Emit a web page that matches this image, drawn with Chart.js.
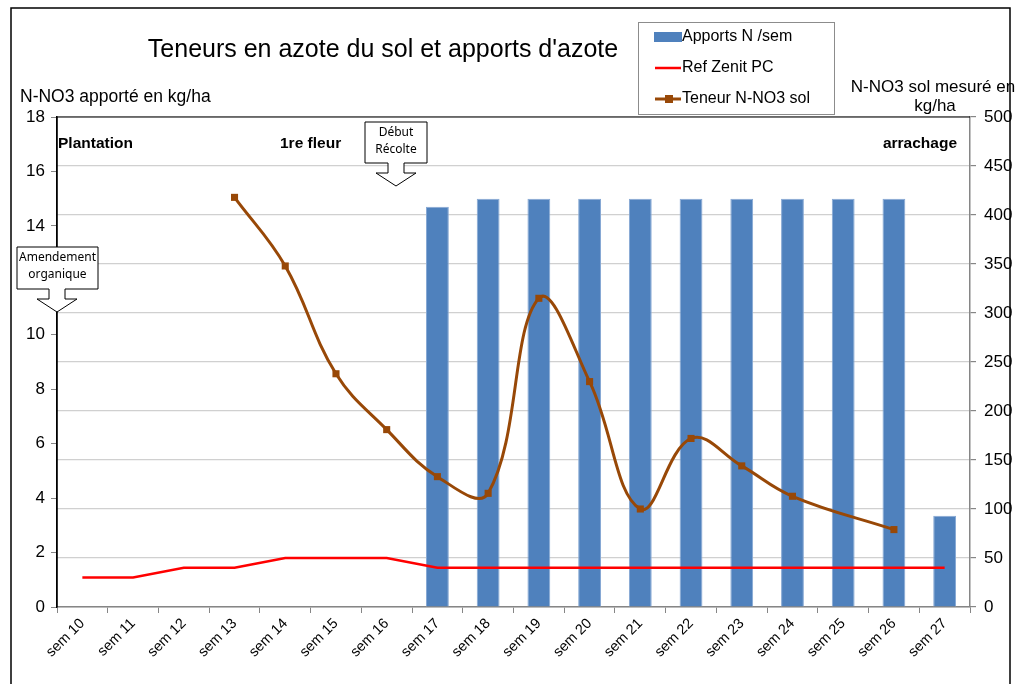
<!DOCTYPE html>
<html>
<head>
<meta charset="utf-8">
<script src="https://cdn.jsdelivr.net/npm/chart.js@4"></script>
<style>
  body { margin: 0; background: #fff; }
  canvas { display: block; }
</style>
</head>
<body>
<canvas id="myChart" width="1021" height="684"></canvas>
<script>
const categories = ['sem 10', 'sem 11', 'sem 12', 'sem 13', 'sem 14', 'sem 15', 'sem 16', 'sem 17', 'sem 18',
    'sem 19', 'sem 20', 'sem 21', 'sem 22', 'sem 23', 'sem 24', 'sem 25', 'sem 26', 'sem 27'];
const apportsN = [null, null, null, null, null, null, null, 14.7, 15, 15, 15, 15, 15, 15, 15, 15, 15, 3.35];
const refZenit = [30, 30, 40, 40, 50, 50, 50, 40, 40, 40, 40, 40, 40, 40, 40, 40, 40, 40];
const teneurSol = [null, null, null, 418, 348, 238, 181, 133, 116, 315, 230, 100, 172, 144, 113, null, 79, null];
const leftTicks = [0, 2, 4, 6, 8, 10, 12, 14, 16, 18];
const rightTicks = [0, 50, 100, 150, 200, 250, 300, 350, 400, 450, 500];

const FONT = '"Liberation Sans", Arial, sans-serif';
const CALLOUT_FONT = '"Noto Sans", sans-serif';

// white page + outer frame
const framePlugin = {
    id: 'frame',
    beforeDraw(chart) {
        const c = chart.ctx;
        c.save();
        c.fillStyle = '#fff';
        c.fillRect(0, 0, chart.width, chart.height);
        c.strokeStyle = '#000';
        c.lineWidth = 1.5;
        c.strokeRect(11, 8, 999, 700);
        c.restore();
    }
};

function callout(c, x, y, w, h, lines, tipX, tipY) {
    const stemW = 16, headW = 40, stemH = 10;
    const mid = tipX;
    c.beginPath();
    c.moveTo(x, y);
    c.lineTo(x + w, y);
    c.lineTo(x + w, y + h);
    c.lineTo(mid + stemW / 2, y + h);
    c.lineTo(mid + stemW / 2, y + h + stemH);
    c.lineTo(mid + headW / 2, y + h + stemH);
    c.lineTo(tipX, tipY);
    c.lineTo(mid - headW / 2, y + h + stemH);
    c.lineTo(mid - stemW / 2, y + h + stemH);
    c.lineTo(mid - stemW / 2, y + h);
    c.lineTo(x, y + h);
    c.closePath();
    c.fillStyle = '#fff';
    c.fill();
    c.strokeStyle = '#000';
    c.lineWidth = 1;
    c.stroke();
    c.fillStyle = '#000';
    c.font = '12px ' + CALLOUT_FONT;
    c.textAlign = 'center';
    c.textBaseline = 'middle';
    lines.forEach((t, i) => c.fillText(t, x + w / 2, y + 11 + i * 17));
}

const decorPlugin = {
    id: 'decor',
    afterDraw(chart) {
        const c = chart.ctx;
        const a = chart.chartArea;
        c.save();
        // plot area top/left border
        c.strokeStyle = '#000';
        c.lineWidth = 1.2;
        c.beginPath();
        c.moveTo(a.left, a.bottom);
        c.lineTo(a.left, a.top);
        c.lineTo(a.right, a.top);
        c.stroke();

        c.fillStyle = '#000';
        c.textBaseline = 'middle';
        c.font = '25px ' + FONT;
        c.textAlign = 'center';
        c.fillText("Teneurs en azote du sol et apports d'azote", 383, 50);

        c.font = '17.5px ' + FONT;
        c.textAlign = 'left';
        c.fillText('N-NO3 apporté en kg/ha', 20, 97);
        c.textAlign = 'center';
        c.font = '17px ' + FONT;
        c.fillText('N-NO3 sol mesuré en', 933, 87);
        c.fillText('kg/ha', 935, 106);

        c.font = 'bold 15.5px ' + FONT;
        c.textAlign = 'left';
        c.fillText('Plantation', 58, 144);
        c.fillText('1re fleur', 280, 144);
        c.textAlign = 'right';
        c.fillText('arrachage', 957, 144);

        callout(c, 365, 122, 62, 41, ['Début', 'Récolte'], 396, 186);
        callout(c, 17, 247, 81, 42, ['Amendement', 'organique'], 57, 312);

        // legend
        c.fillStyle = '#fff';
        c.fillRect(638, 22, 196, 92);
        c.strokeStyle = '#8c8c8c';
        c.lineWidth = 1;
        c.strokeRect(638.5, 22.5, 196, 92);
        const ds = chart.data.datasets;
        c.font = '16px ' + FONT;
        c.textAlign = 'left';
        c.fillStyle = ds[0].backgroundColor;
        c.fillRect(654, 32, 28, 10);
        c.strokeStyle = ds[1].borderColor;
        c.lineWidth = 2.5;
        c.beginPath(); c.moveTo(655, 68); c.lineTo(681, 68); c.stroke();
        c.strokeStyle = ds[2].borderColor;
        c.lineWidth = 3;
        c.beginPath(); c.moveTo(655, 99); c.lineTo(681, 99); c.stroke();
        c.fillStyle = ds[2].pointBackgroundColor;
        c.fillRect(665, 95, 8, 8);
        c.fillStyle = '#000';
        c.fillText(ds[0].label, 682, 37);
        c.fillText(ds[1].label, 682, 68);
        c.fillText(ds[2].label, 682, 99);
        c.restore();
    }
};

const ctx = document.getElementById('myChart').getContext('2d');
const myChart = new Chart(ctx, {
    type: 'bar',
    data: {
        labels: categories,
        datasets: [{
            label: 'Apports N /sem',
            data: apportsN,
            yAxisID: 'y',
            backgroundColor: '#4f81bd',
            borderColor: '#86a8d4',
            borderWidth: 1,
            barPercentage: 0.45,
            categoryPercentage: 1,
            order: 3
        }, {
            type: 'line',
            label: 'Ref Zenit PC',
            data: refZenit,
            yAxisID: 'y1',
            borderColor: '#ff0000',
            borderWidth: 2.5,
            pointRadius: 0,
            tension: 0,
            order: 2
        }, {
            type: 'line',
            label: 'Teneur N-NO3 sol',
            data: teneurSol,
            yAxisID: 'y1',
            borderColor: '#984807',
            borderWidth: 3,
            pointStyle: 'rect',
            pointRadius: 5,
            pointBackgroundColor: '#984807',
            pointBorderColor: '#984807',
            pointBorderWidth: 0,
            tension: 0.4,
            spanGaps: true,
            order: 1
        }]
    },
    options: {
        responsive: false,
        animation: false,
        layout: { padding: { top: 117, left: 0, right: 0, bottom: 0 } },
        plugins: {
            legend: { display: false },
            title: { display: false },
            tooltip: { enabled: false }
        },
        scales: {
            x: {
                offset: true,
                afterFit(s) { s.height = 77; },
                grid: {
                    offset: true,
                    drawOnChartArea: false,
                    tickLength: 6,
                    tickColor: '#868686'
                },
                border: { color: '#868686', width: 1.5 },
                ticks: {
                    minRotation: 45,
                    maxRotation: 45,
                    padding: 2,
                    color: '#000',
                    font: { family: FONT, size: 14.5 }
                }
            },
            y: {
                position: 'left',
                min: 0,
                max: 18,
                afterFit(s) { s.width = 57; },
                afterBuildTicks(s) { s.ticks = leftTicks.map(v => ({ value: v })); },
                grid: {
                    drawOnChartArea: false,
                    tickLength: 6,
                    tickColor: '#868686'
                },
                border: { color: '#000', width: 1.5 },
                ticks: {
                    padding: 6,
                    color: '#000',
                    font: { family: FONT, size: 17 }
                }
            },
            y1: {
                position: 'right',
                min: 0,
                max: 500,
                afterFit(s) { s.width = 51; },
                afterBuildTicks(s) { s.ticks = rightTicks.map(v => ({ value: v })); },
                grid: {
                    color: '#d0d0d0',
                    lineWidth: 1.2,
                    tickLength: 6,
                    tickColor: '#868686'
                },
                border: { color: '#868686', width: 1.5 },
                ticks: {
                    padding: 8,
                    color: '#000',
                    font: { family: FONT, size: 17 }
                }
            }
        }
    },
    plugins: [framePlugin, decorPlugin]
});
</script>
</body>
</html>
